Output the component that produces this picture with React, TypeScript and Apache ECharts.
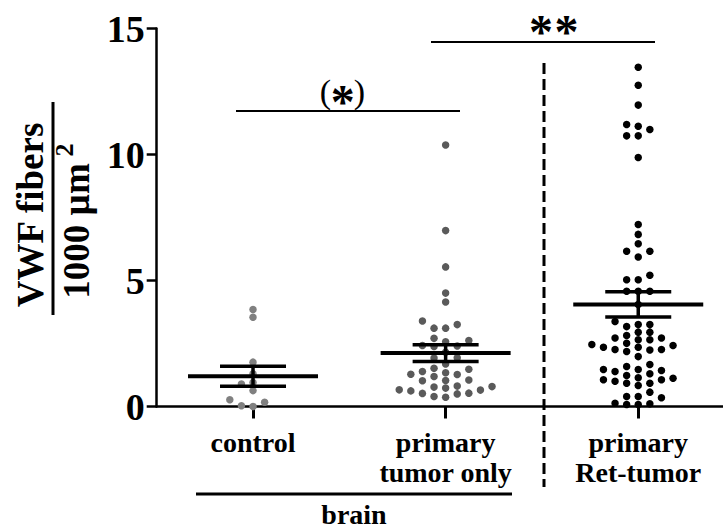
import React, { useEffect, useRef } from "react";
import * as echarts from "echarts";

const categories = ["control", "primary\ntumor only", "primary\nRet-tumor"];
const categoryPositions = [0, 1, 2];

const controlValues = [3.85, 3.54, 1.76, 1.3, 0.95, 0.89, 0.63, 0.27, 0.17, 0.03, 0.0];
const primaryValues = [
  10.38, 6.98, 5.54, 4.5, 4.15, 3.39, 3.25, 3.11, 3.11, 2.71, 2.62, 2.57, 2.42, 2.4, 2.38,
  2.15, 1.93, 1.92, 1.69, 1.52, 1.48, 1.39, 1.34, 1.28, 1.27, 1.19, 1.05, 1.03, 1.02, 0.81,
  0.79, 0.77, 0.73, 0.66, 0.65, 0.62, 0.53, 0.52, 0.5, 0.4, 0.37,
];
const retValues = [
  13.46, 12.75, 11.96, 11.19, 11.12, 10.99, 10.74, 10.74, 9.88, 7.22, 6.83, 6.46, 6.16, 6.16,
  5.93, 5.21, 5.03, 5.03, 4.57, 4.57, 4.57, 4.05, 3.37, 3.25, 3.25, 3.17, 2.95, 2.95, 2.82,
  2.72, 2.72, 2.65, 2.65, 2.51, 2.46, 2.42, 2.35, 2.35, 2.26, 2.26, 2.24, 2.18, 1.98, 1.67,
  1.59, 1.47, 1.47, 1.43, 1.39, 1.3, 1.23, 1.14, 1.12, 1.06, 1.06, 1.0, 0.92, 0.92, 0.83, 0.57,
  0.4, 0.4, 0.35, 0.13, 0.11, 0.08, 0.08,
];
const means = [1.2, 2.12, 4.05];
const sems = [0.4, 0.33, 0.5];
const yTicks = [0, 5, 10, 15];

const W = 723;
const H = 529;
const GRID_LEFT = 156.7;
const GRID_TOP = 28.5;
const GRID_BOTTOM = 122.5;
const X_MIN = -0.5;
const X_MAX = 2.44;
const Y_MAX = 15;
const DOT = 7.5;
const SLOT_PX = 11.6;
const SERIF = "'Liberation Serif', 'Times New Roman', serif";

function beeswarm(values: number[], center: number): number[][] {
  const pxPerY = (H - GRID_TOP - GRID_BOTTOM) / Y_MAX;
  const pxPerX = (W - GRID_LEFT) / (X_MAX - X_MIN);
  const slotUnit = SLOT_PX / pxPerX;
  const sorted = [...values].sort((a, b) => a - b);
  const placed: { slot: number; py: number }[] = [];
  const out: number[][] = [];
  for (const v of sorted) {
    const py = v * pxPerY;
    for (let k = 0; k < 60; k++) {
      const slot = k === 0 ? 0 : k % 2 === 1 ? -Math.ceil(k / 2) : k / 2;
      const clash = placed.some((p) => p.slot === slot && Math.abs(p.py - py) < DOT);
      if (!clash) {
        placed.push({ slot, py });
        out.push([center + slot * slotUnit, v]);
        break;
      }
    }
  }
  return out;
}

const groups = [controlValues, primaryValues, retValues];
const groupColors = ["#808080", "#5a5a5a", "#000000"];

export default function App() {
  const ref = useRef<HTMLDivElement>(null);
  useEffect(() => {
    if (!ref.current) return;
    const chart = echarts.init(ref.current, undefined, { renderer: "svg" });
    const scatterSeries = groups.map((vals, i) => ({
      type: "scatter",
      data: beeswarm(vals, categoryPositions[i]),
      symbol: "circle",
      symbolSize: DOT,
      itemStyle: { color: groupColors[i], opacity: 1 },
      z: 2,
      clip: false,
    }));
    const statData = categoryPositions.map((c, i) => [c, means[i], sems[i]]);
    const textStyle = (size: number, weight = "bold") => ({
      font: `${weight} ${size}px ${SERIF}`,
      fill: "#000",
      align: "center",
      verticalAlign: "middle",
    });
    chart.setOption({
      animation: false,
      backgroundColor: "#ffffff",
      grid: { left: GRID_LEFT, right: 0, top: GRID_TOP, bottom: GRID_BOTTOM, containLabel: false },
      xAxis: {
        type: "value",
        min: X_MIN,
        max: X_MAX,
        axisLine: { show: true, onZero: false, lineStyle: { color: "#000", width: 2.5 } },
        splitLine: { show: false },
        axisTick: {
          show: true,
          customValues: categoryPositions,
          length: 12,
          lineStyle: { color: "#000", width: 3 },
        },
        axisLabel: {
          show: true,
          customValues: categoryPositions,
          formatter: (v: number) => categories[Math.round(v)] ?? "",
          fontFamily: SERIF,
          fontWeight: "bold",
          fontSize: 28,
          lineHeight: 30,
          color: "#000",
          margin: 21,
        },
      },
      yAxis: {
        type: "value",
        min: 0,
        max: Y_MAX,
        interval: 5,
        axisLine: { show: true, onZero: false, lineStyle: { color: "#000", width: 2.5 } },
        splitLine: { show: false },
        axisTick: { show: true, length: 10, lineStyle: { color: "#000", width: 2.5 } },
        axisLabel: {
          fontFamily: SERIF,
          fontWeight: "bold",
          fontSize: 38,
          color: "#000",
          margin: 12,
          formatter: (v: number) => (yTicks.includes(v) ? String(v) : ""),
        },
      },
      series: [
        ...scatterSeries,
        {
          type: "custom",
          data: statData,
          z: 5,
          clip: false,
          renderItem: (params: any, api: any) => {
            const x = api.value(0);
            const m = api.value(1);
            const s = api.value(2);
            const c = api.coord([x, m]);
            const t = api.coord([x, m + s]);
            const b = api.coord([x, m - s]);
            const hw = 65;
            const sw = 33;
            const st = (w: number) => ({ stroke: "#000", lineWidth: w });
            return {
              type: "group",
              children: [
                { type: "line", shape: { x1: c[0] - hw, y1: c[1], x2: c[0] + hw, y2: c[1] }, style: st(4) },
                { type: "line", shape: { x1: t[0] - sw, y1: t[1], x2: t[0] + sw, y2: t[1] }, style: st(3.5) },
                { type: "line", shape: { x1: b[0] - sw, y1: b[1], x2: b[0] + sw, y2: b[1] }, style: st(3.5) },
                { type: "line", shape: { x1: c[0], y1: t[1], x2: c[0], y2: b[1] }, style: st(3.5) },
              ],
            };
          },
        },
      ],
      graphic: [
        { type: "text", x: 30, y: 215, rotation: Math.PI / 2, style: { text: "VWF fibers", ...textStyle(37) } },
        { type: "line", shape: { x1: 53, y1: 102, x2: 53, y2: 315 }, style: { stroke: "#000", lineWidth: 3 } },
        { type: "text", x: 76, y: 231, rotation: Math.PI / 2, style: { text: "1000 µm", ...textStyle(37) } },
        { type: "text", x: 64, y: 150, rotation: Math.PI / 2, style: { text: "2", ...textStyle(26) } },
        {
          type: "line",
          shape: { x1: 544, y1: 63, x2: 544, y2: 487 },
          style: { stroke: "#000", lineWidth: 3, lineDash: [11, 5] },
        },
        { type: "line", shape: { x1: 431, y1: 42, x2: 655, y2: 42 }, style: { stroke: "#000", lineWidth: 2 } },
        { type: "text", x: 541, y: 31, style: { text: "*", ...textStyle(48) } },
        { type: "text", x: 566.6, y: 31, style: { text: "*", ...textStyle(48) } },
        { type: "line", shape: { x1: 236, y1: 111, x2: 460, y2: 111 }, style: { stroke: "#000", lineWidth: 2 } },
        { type: "text", x: 325.5, y: 91, style: { text: "(", ...textStyle(34, "normal") } },
        { type: "text", x: 342.8, y: 101, style: { text: "*", ...textStyle(48) } },
        { type: "text", x: 359.5, y: 91, style: { text: ")", ...textStyle(34, "normal") } },
        { type: "line", shape: { x1: 196, y1: 494, x2: 512, y2: 494 }, style: { stroke: "#000", lineWidth: 3 } },
        { type: "text", x: 354, y: 514, style: { text: "brain", ...textStyle(28) } },
      ],
    });
    return () => chart.dispose();
  }, []);
  return (
    <div
      ref={ref}
      style={{ position: "absolute", left: 0, top: 0, width: W, height: H, background: "#fff" }}
    />
  );
}
